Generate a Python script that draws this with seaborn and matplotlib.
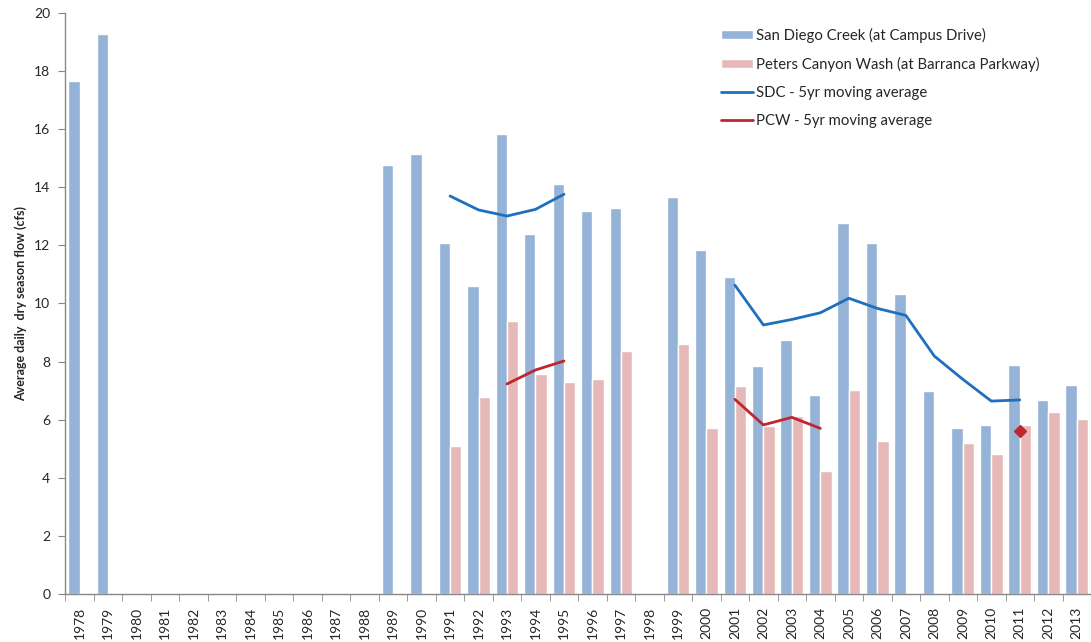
import numpy as np
import pandas as pd
import seaborn as sns
import matplotlib.pyplot as plt
from matplotlib.ticker import MultipleLocator, FixedLocator

years = [str(y) for y in range(1978, 2014)]

# San Diego Creek (at Campus Drive), cfs
sdc = [17.65, 19.27, np.nan, np.nan, np.nan, np.nan, np.nan, np.nan, np.nan, np.nan, np.nan,
       14.77, 15.13, 12.07, 10.60, 15.82, 12.39, 14.11, 13.17, 13.28, np.nan,
       13.68, 11.83, 10.91, 7.86, 8.73, 6.85, 12.77, 12.08, 10.32, 6.99,
       5.71, 5.82, 7.87, 6.68, 7.19]

# Peters Canyon Wash (at Barranca Parkway), cfs
pcw = [np.nan] * 13 + [5.11, 6.79, 9.39, 7.58, 7.31, 7.39, 8.37, np.nan,
       8.59, 5.70, 7.16, 5.79, 6.14, 4.25, 7.02, 5.28, np.nan, np.nan,
       5.19, 4.81, 5.82, 6.25, 6.01]

# 5-year moving averages
sdc_ma = [np.nan] * 13 + [13.70, 13.22, 13.01, 13.24, 13.76] + [np.nan] * 5 + \
         [10.63, 9.26, 9.45, 9.68, 10.18, 9.83, 9.59, 8.19, 7.39, 6.64, 6.68, np.nan, np.nan]
pcw_ma = [np.nan] * 15 + [7.23, 7.71, 8.02] + [np.nan] * 5 + \
         [6.70, 5.82, 6.08, 5.70] + [np.nan] * 9
pcw_point_year = "2011"
pcw_point_val = 5.61

labels = ["San Diego Creek (at Campus Drive)", "Peters Canyon Wash (at Barranca Parkway)"]

df = pd.DataFrame({
    "year": years * 2,
    "flow": sdc + pcw,
    "site": [labels[0]] * len(years) + [labels[1]] * len(years),
})

sns.set_style("white")
plt.rcParams["font.family"] = ["Lato", "DejaVu Sans"]

fig = plt.figure(figsize=(10.91, 6.42), dpi=100)
ax = fig.add_axes([0.060, 0.0748, 0.940, 0.905])

sns.barplot(data=df, x="year", y="flow", hue="site", order=years, hue_order=labels,
            palette=["#95b3d7", "#e6b9b8"], width=0.8, saturation=1, ax=ax)

xpos = np.arange(len(years))
ax.plot(xpos, sdc_ma, color="#1f6fbf", lw=2, label="SDC - 5yr moving average")
ax.plot(xpos, pcw_ma, color="#c0262d", lw=2, label="PCW - 5yr moving average")
ax.plot(years.index(pcw_point_year), pcw_point_val, marker="D", color="#c0262d",
        ms=6, ls="none")

ax.set_xlim(-0.5, len(years) - 0.5)
ax.set_ylim(0, 20)
ax.yaxis.set_major_locator(MultipleLocator(2))
ax.set_xlabel("")
ax.set_ylabel("Average daily  dry season flow (cfs)", fontsize=9, fontweight="bold",
              labelpad=5)

ax.tick_params(axis="x", which="major", length=0, labelrotation=90, labelsize=10, pad=9)
ax.xaxis.set_minor_locator(FixedLocator(np.arange(-0.5, len(years), 1)))
ax.tick_params(axis="x", which="minor", length=5, color="#888888", bottom=True)
ax.tick_params(axis="y", length=5, color="#888888", left=True, labelsize=10, pad=6)

for s in ["top", "right"]:
    ax.spines[s].set_visible(False)
for s in ["left", "bottom"]:
    ax.spines[s].set_color("#888888")
    ax.spines[s].set_linewidth(1)

ax.legend(loc="upper left", bbox_to_anchor=(0.639, 0.975), frameon=False, fontsize=10.7,
          borderpad=0, borderaxespad=0, handlelength=2.15, handleheight=0.6,
          labelspacing=0.95, handletextpad=0.25)

fig.savefig("out.png", dpi=100)
